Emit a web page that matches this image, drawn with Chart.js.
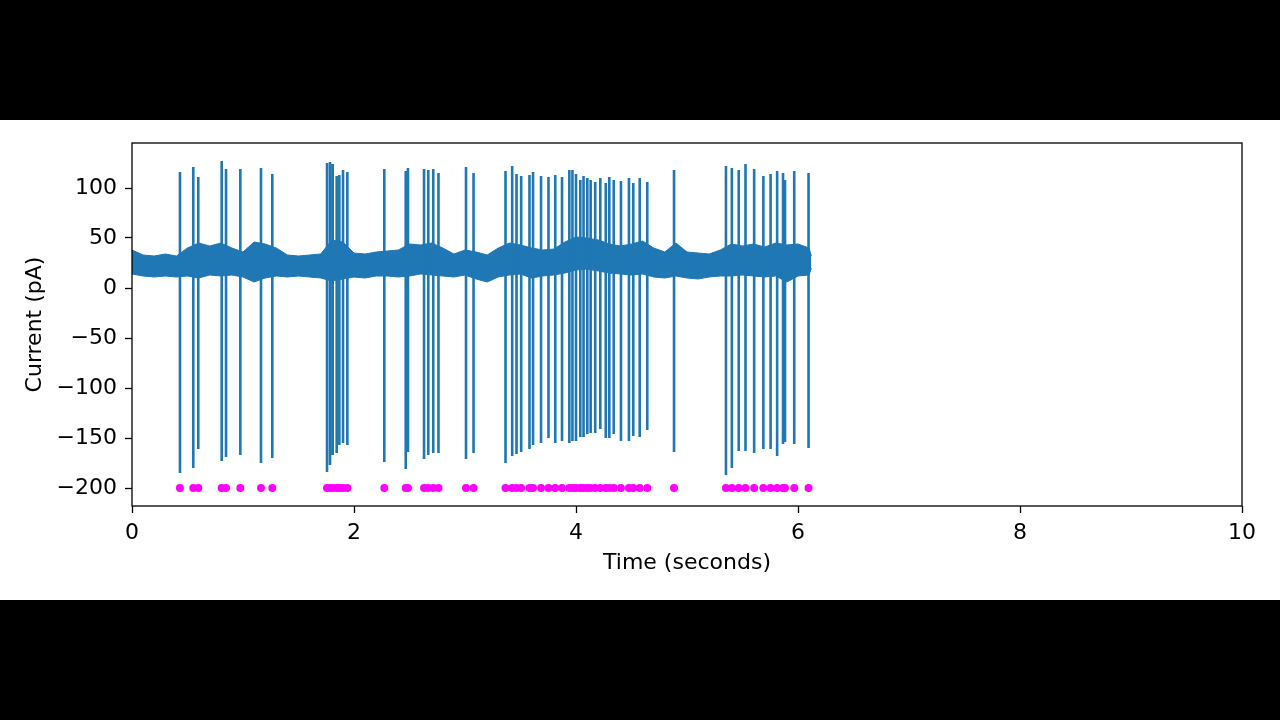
<!DOCTYPE html>
<html>
<head>
<meta charset="utf-8">
<script src="https://cdn.jsdelivr.net/npm/chart.js@4.4.1/dist/chart.umd.min.js"></script>
<style>
	html, body { margin: 0; padding: 0; background: #000; }
	#panel { position: absolute; left: 0; top: 120px; width: 1280px; height: 480px; background: #fff; }
	#chart { display: block; }
</style>
</head>
<body>
<div id="panel"><canvas id="chart" width="1280" height="480"></canvas></div>
<script>
	// spike times (s), peak and trough current (pA)
	var spikeTimes = [0.432, 0.552, 0.597, 0.808, 0.847, 0.976, 1.162, 1.264,
		1.757, 1.784, 1.808, 1.844, 1.868, 1.901, 1.940, 2.273, 2.466, 2.486,
		2.631, 2.669, 2.714, 2.761, 3.009, 3.077, 3.365, 3.425, 3.464, 3.506,
		3.581, 3.613, 3.685, 3.752, 3.813, 3.874, 3.940, 3.968, 4.000, 4.039,
		4.068, 4.102, 4.132, 4.173, 4.219, 4.268, 4.300, 4.340, 4.405, 4.477,
		4.516, 4.574, 4.642, 4.883, 5.351, 5.404, 5.466, 5.527, 5.605, 5.688,
		5.753, 5.812, 5.865, 5.883, 5.966, 6.095];
	var spikePeaks = [116, 121, 111, 127, 119, 119, 120, 114,
		125, 126, 124, 112, 113, 118, 116, 119, 117, 120,
		119, 118, 119, 115, 121, 115, 117, 122, 114, 112,
		113, 116, 112, 111, 113, 111, 118, 118, 114, 108,
		112, 110, 108, 106, 110, 105, 111, 108, 107, 110,
		105, 110, 106, 118, 122, 120, 118, 124, 119, 112,
		114, 117, 115, 108, 117, 115];
	var spikeTroughs = [-185, -180, -161, -173, -169, -167, -175, -170,
		-184, -177, -167, -165, -157, -155, -157, -174, -181, -164,
		-171, -167, -165, -165, -171, -165, -175, -168, -166, -164,
		-161, -157, -155, -150, -155, -153, -155, -153, -153, -149,
		-149, -146, -145, -145, -141, -150, -150, -146, -153, -153,
		-148, -149, -142, -164, -187, -180, -163, -163, -165, -161,
		-161, -168, -156, -154, -156, -160];
	var markerLevel = -200;

	// baseline noise band, upper and lower edge every 0.1 s
	var bandTimes = [0.0, 0.1, 0.2, 0.3, 0.4, 0.5, 0.6, 0.7, 0.8, 0.9,
		1.0, 1.1, 1.2, 1.3, 1.4, 1.5, 1.6, 1.7, 1.8, 1.9,
		2.0, 2.1, 2.2, 2.3, 2.4, 2.5, 2.6, 2.7, 2.8, 2.9,
		3.0, 3.1, 3.2, 3.3, 3.4, 3.5, 3.6, 3.7, 3.8, 3.9,
		4.0, 4.1, 4.2, 4.3, 4.4, 4.5, 4.6, 4.7, 4.8, 4.9,
		5.0, 5.1, 5.2, 5.3, 5.4, 5.5, 5.6, 5.7, 5.8, 5.9,
		6.0, 6.1, 6.12];
	var bandUpper = [38, 33, 32, 34, 32, 40, 45, 42, 45, 40,
		36, 46, 44, 40, 33, 32, 33, 34, 48, 46,
		35, 34, 36, 37, 38, 44, 43, 45, 40, 34,
		38, 36, 33, 40, 45, 43, 40, 38, 39, 46,
		51, 50, 48, 44, 42, 44, 47, 40, 36, 45,
		36, 35, 34, 38, 44, 42, 44, 41, 45, 43,
		44, 40, 32];
	var bandLower = [14, 12, 11, 12, 11, 12, 10, 13, 12, 13,
		11, 6, 10, 12, 11, 12, 11, 10, 7, 9,
		11, 10, 12, 12, 11, 12, 14, 13, 12, 11,
		13, 9, 6, 11, 13, 14, 10, 12, 13, 15,
		18, 19, 17, 15, 14, 13, 14, 11, 10, 12,
		10, 9, 11, 12, 12, 13, 12, 11, 12, 6,
		12, 13, 20];

	var xTicks = [0, 2, 4, 6, 8, 10];
	var yTicks = [-200, -150, -100, -50, 0, 50, 100];

	var traceColor = '#1f77b4';
	var dotColor = '#ff00ff';

	var spikeLine = [];
	var markers = [];
	var upperPts = [];
	var lowerPts = [];
	var i;

	for (i = 0; i < spikeTimes.length; i++) {
		spikeLine.push({ x: spikeTimes[i], y: spikePeaks[i] });
		spikeLine.push({ x: spikeTimes[i], y: spikeTroughs[i] });
		spikeLine.push({ x: spikeTimes[i], y: null });
		markers.push({ x: spikeTimes[i], y: markerLevel });
	}
	for (i = 0; i < bandTimes.length; i++) {
		upperPts.push({ x: bandTimes[i], y: bandUpper[i] });
		lowerPts.push({ x: bandTimes[i], y: bandLower[i] });
	}

	// matplotlib style box round the plot area
	var frameBox = {
		id: 'frameBox',
		afterDraw: function (chart) {
			var a = chart.chartArea;
			var ctx = chart.ctx;
			ctx.save();
			ctx.strokeStyle = '#000';
			ctx.lineWidth = 1.3;
			ctx.strokeRect(a.left, a.top, a.right - a.left, a.bottom - a.top);
			ctx.restore();
		}
	};

	var tickFont = { family: 'DejaVu Sans', size: 22 };

	new Chart(document.getElementById('chart'), {
		type: 'line',
		data: {
			datasets: [{
				label: 'lower',
				data: lowerPts,
				borderColor: traceColor,
				borderWidth: 1,
				pointRadius: 0,
				fill: false,
				order: 3
			}, {
				label: 'upper',
				data: upperPts,
				borderColor: traceColor,
				backgroundColor: traceColor,
				borderWidth: 1,
				pointRadius: 0,
				fill: '-1',
				order: 3
			}, {
				label: 'spikes',
				data: spikeLine,
				borderColor: traceColor,
				borderWidth: 2.6,
				pointRadius: 0,
				spanGaps: false,
				fill: false,
				order: 2
			}, {
				label: 'detected',
				data: markers,
				showLine: false,
				pointRadius: 4,
				pointBorderWidth: 0,
				pointBackgroundColor: dotColor,
				order: 1
			}]
		},
		options: {
			responsive: false,
			animation: false,
			events: [],
			layout: { padding: { top: 23, right: 38, left: 0, bottom: 0 } },
			plugins: {
				legend: { display: false },
				tooltip: { enabled: false }
			},
			scales: {
				x: {
					type: 'linear',
					min: 0,
					max: 10,
					afterFit: function (scale) { scale.height = 94; },
					afterBuildTicks: function (scale) {
						scale.ticks = xTicks.map(function (v) { return { value: v }; });
					},
					grid: { drawOnChartArea: false, drawTicks: true, tickLength: 7, tickColor: '#000', tickWidth: 1.3 },
					border: { display: false },
					ticks: { color: '#000', font: tickFont, padding: 7, maxRotation: 0 },
					title: {
						display: true,
						text: 'Time (seconds)',
						color: '#000',
						font: tickFont,
						padding: { top: 0, bottom: 24 }
					}
				},
				y: {
					type: 'linear',
					min: -218,
					max: 145,
					afterFit: function (scale) { scale.width = 132; },
					afterBuildTicks: function (scale) {
						scale.ticks = yTicks.map(function (v) { return { value: v }; });
					},
					grid: { drawOnChartArea: false, drawTicks: true, tickLength: 7, tickColor: '#000', tickWidth: 1.3 },
					border: { display: false },
					ticks: {
						color: '#000',
						font: tickFont,
						padding: 8,
						callback: function (v) { return v < 0 ? '\u2212' + Math.abs(v) : String(v); }
					},
					title: {
						display: true,
						text: 'Current (pA)',
						color: '#000',
						font: tickFont,
						padding: { top: 22, bottom: 0 }
					}
				}
			}
		},
		plugins: [frameBox]
	});
</script>
</body>
</html>
